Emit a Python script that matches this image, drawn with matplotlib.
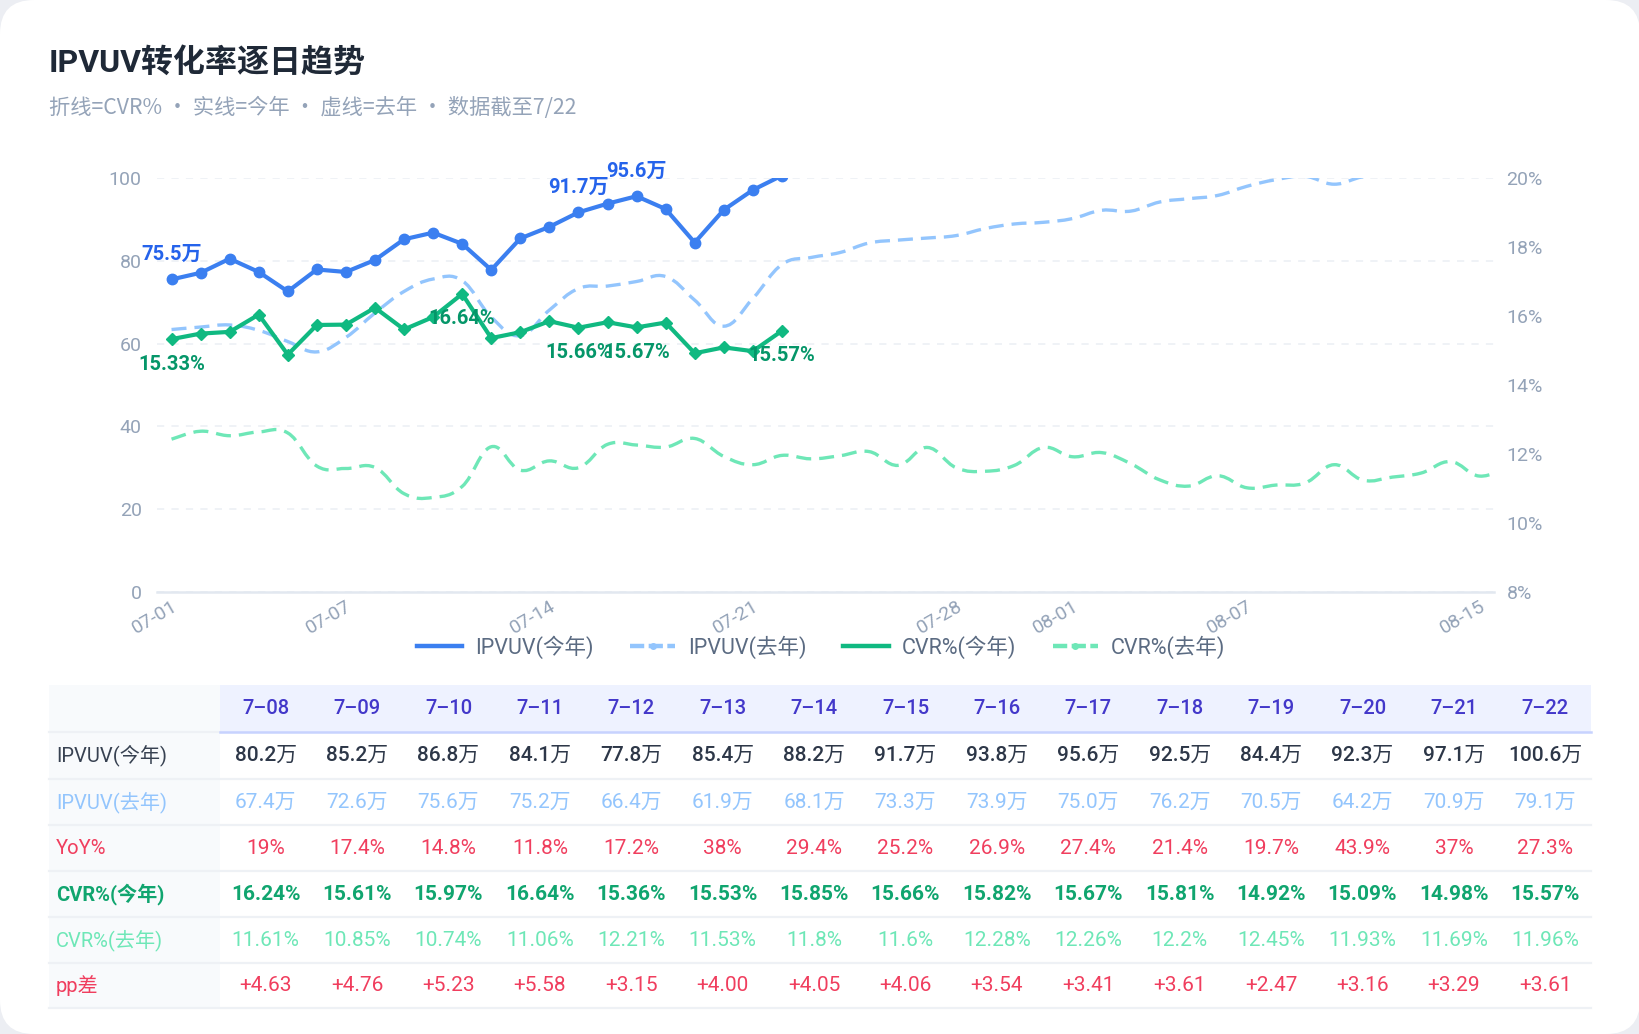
import matplotlib
matplotlib.use("Agg")
import matplotlib.pyplot as plt
from matplotlib.patches import FancyBboxPatch, Rectangle, PathPatch
from matplotlib.path import Path
from matplotlib.lines import Line2D
import numpy as np

# Latin glyphs from Roboto, Chinese falls back to Noto Sans CJK
plt.rcParams['font.family'] = ['Roboto', 'Noto Sans CJK SC', 'DejaVu Sans']

# ---- data ----
dates = ['07-01', '07-02', '07-03', '07-04', '07-05', '07-06', '07-07', '07-08',
         '07-09', '07-10', '07-11', '07-12', '07-13', '07-14', '07-15', '07-16',
         '07-17', '07-18', '07-19', '07-20', '07-21', '07-22', '07-23', '07-24',
         '07-25', '07-26', '07-27', '07-28', '07-29', '07-30', '07-31', '08-01',
         '08-02', '08-03', '08-04', '08-05', '08-06', '08-07', '08-08', '08-09',
         '08-10', '08-11', '08-12', '08-13', '08-14', '08-15', '08-16']
shown_ticks = ['07-01', '07-07', '07-14', '07-21', '07-28', '08-01', '08-07', '08-15']
last_shown = '08-15'

# IPVUV in 万
ipvuv_ty = [75.5, 77.1, 80.5, 77.3, 72.6, 77.9, 77.3, 80.2, 85.2, 86.8, 84.1,
            77.8, 85.4, 88.2, 91.7, 93.8, 95.6, 92.5, 84.4, 92.3, 97.1, 100.6]
ipvuv_ly = [63.4, 64.0, 64.5, 63.2, 60.5, 58.0, 61.5, 67.4, 72.6, 75.6, 75.2,
            66.4, 61.9, 68.1, 73.3, 73.9, 75.0, 76.2, 70.5, 64.2, 70.9, 79.1,
            80.8, 82.0, 84.3, 85.0, 85.5, 86.1, 87.8, 88.9, 89.3, 90.2, 92.2,
            92.0, 94.2, 95.0, 95.8, 98.0, 99.6, 100.4, 98.5, 100.3, 100.5,
            102.0, 103.5, 103.0, 102.5]
# CVR in %
cvr_ty = [15.33, 15.49, 15.54, 16.04, 14.88, 15.74, 15.75, 16.24, 15.61, 15.97,
          16.64, 15.36, 15.53, 15.85, 15.66, 15.82, 15.67, 15.81, 14.92, 15.09,
          14.98, 15.57]
cvr_ly = [12.43, 12.66, 12.53, 12.64, 12.61, 11.65, 11.58, 11.61, 10.85, 10.74,
          11.06, 12.21, 11.53, 11.8, 11.6, 12.28, 12.26, 12.2, 12.45, 11.93,
          11.69, 11.96, 11.86, 11.95, 12.07, 11.67, 12.19, 11.6, 11.5, 11.67,
          12.19, 11.92, 12.04, 11.72, 11.25, 11.07, 11.37, 11.02, 11.1, 11.16,
          11.69, 11.24, 11.33, 11.45, 11.78, 11.36, 11.65]
yoy = [19, 17.4, 14.8, 11.8, 17.2, 38, 29.4, 25.2, 26.9, 27.4, 21.4, 19.7, 43.9, 37, 27.3]

table_dates = dates[7:22]
ipvuv_label_idx = [0, 14, 16]
cvr_label_idx = [0, 10, 14, 16, 21]

C_BLUE = '#3b7ff0'
C_BLUE_LY = '#93c5fd'
C_GREEN = '#10b981'
C_GREEN_LY = '#6ee7b7'
C_AXIS = '#94a3b8'
C_RED = '#f03e5e'


def smooth_path(ys, k=0.2):
    # bezier path through the points, like a smoothed line series
    pts = np.column_stack([np.arange(len(ys)), ys]).astype(float)
    n = len(pts)
    verts = [pts[0]]
    codes = [Path.MOVETO]
    for i in range(n - 1):
        p0 = pts[max(i - 1, 0)]
        p1 = pts[i]
        p2 = pts[i + 1]
        p3 = pts[min(i + 2, n - 1)]
        verts += [p1 + (p2 - p0) * k, p2 - (p3 - p1) * k, p2]
        codes += [Path.CURVE4] * 3
    return Path(verts, codes)


W, H = 1640, 1034
fig = plt.figure(figsize=(W / 100, H / 100), dpi=100, facecolor='#eceef3')

# background card + table in pixel coordinates
bg = fig.add_axes([0, 0, 1, 1])
bg.set_xlim(0, W)
bg.set_ylim(H, 0)
bg.axis('off')
bg.add_patch(FancyBboxPatch((0, 0), W, H, boxstyle="round,pad=0,rounding_size=34",
                            fc='white', ec='none'))

bg.text(49, 62, "IPVUV转化率逐日趋势", fontsize=23, fontweight='bold',
        color='#1f2937', va='center', ha='left')
bg.text(49, 108, "折线=CVR% · 实线=今年 · 虚线=去年 · 数据截至7/22", fontsize=15.3,
        color='#94a3b8', va='center', ha='left', family=['Noto Sans CJK SC', 'DejaVu Sans'])

# ---- chart ----
ax = fig.add_axes([157 / W, 1 - 592 / H, (1494 - 157) / W, (592 - 178) / H])
ax.set_facecolor('none')
ax.set_xlim(-0.5, dates.index(last_shown) + 0.5)
ax.set_ylim(0, 100)
ax.set_yticks([0, 20, 40, 60, 80, 100])
ax.yaxis.grid(True, color='#eef1f6', linestyle=(0, (4, 4)), linewidth=1.3)
ax.set_axisbelow(True)
for s in ['top', 'left', 'right']:
    ax.spines[s].set_visible(False)
ax.spines['bottom'].set_color('#e2e8f0')
ax.spines['bottom'].set_linewidth(1.8)
ax.tick_params(axis='y', length=0, pad=11, labelcolor=C_AXIS, labelsize=14)
ax.set_xticks([dates.index(d) for d in shown_ticks])
ax.set_xticklabels(shown_ticks, rotation=30, ha='right', rotation_mode='anchor')
ax.tick_params(axis='x', length=0, pad=4, labelcolor=C_AXIS, labelsize=14)

ax2 = ax.twinx()
ax2.set_ylim(8, 20)
ax2.set_yticks([8, 10, 12, 14, 16, 18, 20])
ax2.set_yticklabels([f"{v}%" for v in [8, 10, 12, 14, 16, 18, 20]])
for s in ax2.spines.values():
    s.set_visible(False)
ax2.tick_params(axis='y', length=0, pad=9, labelcolor=C_AXIS, labelsize=14)

x_ty = np.arange(len(ipvuv_ty))
ax.plot(x_ty, ipvuv_ty, color=C_BLUE, lw=3, marker='o', ms=7.5,
        solid_joinstyle='round', zorder=3)
ax.add_patch(PathPatch(smooth_path(ipvuv_ly), fill=False, ec=C_BLUE_LY, lw=2.4,
                       ls=(0, (4.5, 2.4)), zorder=3.5))
ax2.plot(x_ty, cvr_ty, color=C_GREEN, lw=3, marker='D', ms=6.5,
         solid_joinstyle='round', zorder=3)
ax2.add_patch(PathPatch(smooth_path(cvr_ly), fill=False, ec=C_GREEN_LY, lw=2.4,
                        ls=(0, (4.5, 2.4)), zorder=3.5))

for i in ipvuv_label_idx:
    ax.annotate(f"{ipvuv_ty[i]}万", (i, ipvuv_ty[i]), xytext=(0, 18),
                textcoords='offset points', ha='center', va='center',
                color='#2563eb', fontsize=14.5, fontweight='bold', zorder=6)
for i in cvr_label_idx:
    ax2.annotate(f"{cvr_ty[i]:.2f}%", (i, cvr_ty[i]), xytext=(0, -18),
                 textcoords='offset points', ha='center', va='center',
                 color='#059669', fontsize=14.5, fontweight='bold', zorder=6)

handles = [
    Line2D([0], [0], color=C_BLUE, lw=3.2),
    Line2D([0], [0], color=C_BLUE_LY, lw=3.2, ls=(0, (3.2, 1.0)), marker='o', ms=4),
    Line2D([0], [0], color=C_GREEN, lw=3.2),
    Line2D([0], [0], color=C_GREEN_LY, lw=3.2, ls=(0, (3.2, 1.0)), marker='o', ms=4),
]
fig.legend(handles, ['IPVUV(今年)', 'IPVUV(去年)', 'CVR%(今年)', 'CVR%(去年)'],
           loc='center', bbox_to_anchor=(821 / W, 1 - 647 / H), ncol=4, frameon=False,
           fontsize=15.5, handlelength=2.1, handletextpad=0.6, columnspacing=1.7,
           labelcolor='#5b6b82')

# ---- table ----
tx0, tx1 = 49, 1591
col0_w = 171
ncol = len(table_dates)
cw = (tx1 - tx0 - col0_w) / ncol
row_y = [685, 732, 779, 825, 871, 917, 963, 1008]

bg.add_patch(Rectangle((tx0, row_y[0]), col0_w, row_y[1] - row_y[0], fc='#f8fafc', ec='none'))
bg.add_patch(Rectangle((tx0 + col0_w, row_y[0]), ncol * cw, row_y[1] - row_y[0],
                       fc='#eef2ff', ec='none'))
for j, d in enumerate(table_dates):
    m, dd = d.split('-')
    bg.text(tx0 + col0_w + (j + 0.5) * cw, (row_y[0] + row_y[1]) / 2, f"{int(m)}–{dd}",
            ha='center', va='center', fontsize=14.5, color='#4338ca', fontweight='medium')
bg.plot([tx0, tx0 + col0_w], [row_y[1], row_y[1]], color='#eef1f5', lw=1.6)
bg.plot([tx0 + col0_w, tx1], [row_y[1], row_y[1]], color='#c7d2fe', lw=1.8)

rows = [
    ("IPVUV(今年)", [f"{v:.1f}万" for v in ipvuv_ty[7:22]], '#2d3748', '#374151', 'medium'),
    ("IPVUV(去年)", [f"{v:.1f}万" for v in ipvuv_ly[7:22]], C_BLUE_LY, C_BLUE_LY, 'normal'),
    ("YoY%", [f"{v:g}%" for v in yoy], C_RED, C_RED, 'normal'),
    ("CVR%(今年)", [f"{v:.2f}%" for v in cvr_ty[7:22]], '#10a56f', '#10a56f', 'bold'),
    ("CVR%(去年)", [f"{v:g}%" for v in cvr_ly[7:22]], C_GREEN_LY, C_GREEN_LY, 'normal'),
    ("pp差", [f"{a - b:+.2f}" for a, b in zip(cvr_ty[7:22], cvr_ly[7:22])], C_RED, C_RED, 'normal'),
]
for r, (label, vals, vcolor, lcolor, weight) in enumerate(rows):
    top, bot = row_y[r + 1], row_y[r + 2]
    yc = (top + bot) / 2
    bg.add_patch(Rectangle((tx0, top), col0_w, bot - top, fc='#f8fafc', ec='none'))
    bg.plot([tx0, tx1], [bot, bot], color='#eef1f5', lw=1.6)
    bg.text(tx0 + 7, yc, label, ha='left', va='center', fontsize=14.5, color=lcolor,
            fontweight='bold' if weight == 'bold' else 'normal')
    for j, v in enumerate(vals):
        bg.text(tx0 + col0_w + (j + 0.5) * cw, yc, v, ha='center', va='center',
                fontsize=15, color=vcolor, fontweight=weight)

fig.savefig('out.png', dpi=100, facecolor=fig.get_facecolor())
